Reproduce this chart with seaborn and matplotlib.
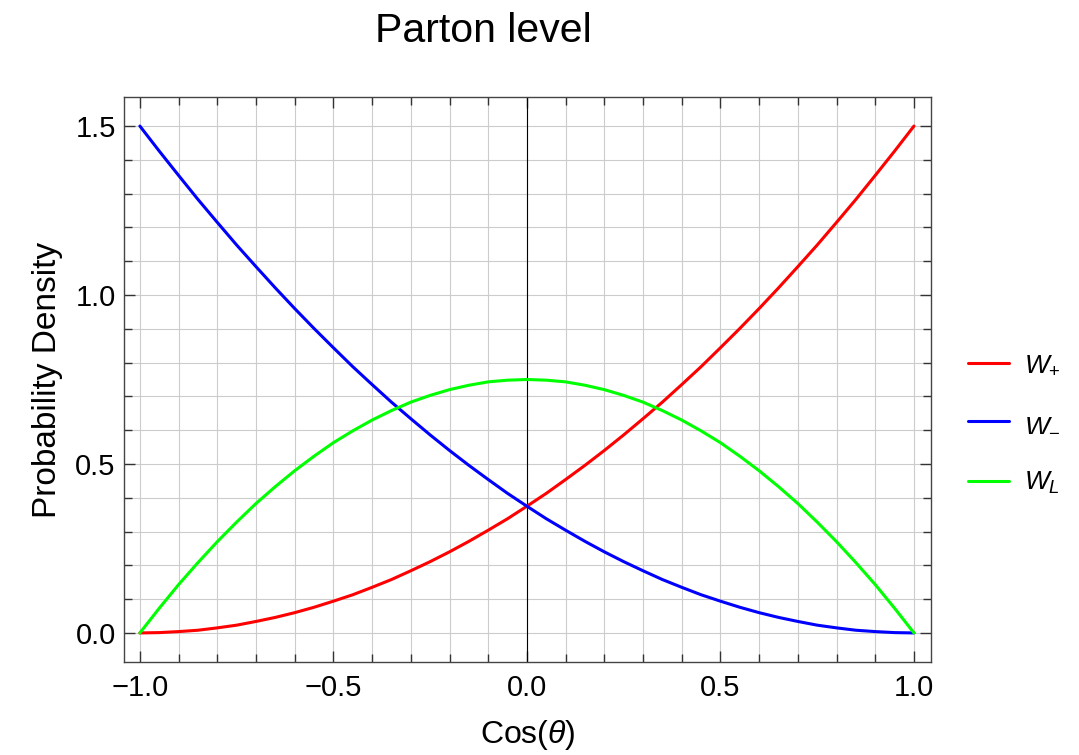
import numpy as np
import pandas as pd
import matplotlib
matplotlib.use("Agg")
import matplotlib.pyplot as plt
import seaborn as sns
from matplotlib.ticker import MultipleLocator, FuncFormatter

cos_theta = [-1.00, -0.95, -0.90, -0.85, -0.80, -0.75, -0.70, -0.65, -0.60, -0.55,
             -0.50, -0.45, -0.40, -0.35, -0.30, -0.25, -0.20, -0.15, -0.10, -0.05,
             0.00, 0.05, 0.10, 0.15, 0.20, 0.25, 0.30, 0.35, 0.40, 0.45,
             0.50, 0.55, 0.60, 0.65, 0.70, 0.75, 0.80, 0.85, 0.90, 0.95, 1.00]

w_plus = [0.000, 0.001, 0.004, 0.008, 0.015, 0.023, 0.034, 0.046, 0.060, 0.076,
          0.094, 0.113, 0.135, 0.158, 0.184, 0.211, 0.240, 0.271, 0.304, 0.338,
          0.375, 0.413, 0.454, 0.496, 0.540, 0.586, 0.634, 0.683, 0.735, 0.788,
          0.844, 0.901, 0.960, 1.021, 1.084, 1.148, 1.215, 1.283, 1.354, 1.426, 1.500]

w_minus = [1.500, 1.426, 1.354, 1.283, 1.215, 1.148, 1.084, 1.021, 0.960, 0.901,
           0.844, 0.788, 0.735, 0.683, 0.634, 0.586, 0.540, 0.496, 0.454, 0.413,
           0.375, 0.338, 0.304, 0.271, 0.240, 0.211, 0.184, 0.158, 0.135, 0.113,
           0.094, 0.076, 0.060, 0.046, 0.034, 0.023, 0.015, 0.008, 0.004, 0.001, 0.000]

w_long = [0.000, 0.073, 0.143, 0.208, 0.270, 0.328, 0.383, 0.433, 0.480, 0.523,
          0.563, 0.598, 0.630, 0.658, 0.683, 0.703, 0.720, 0.733, 0.743, 0.748,
          0.750, 0.748, 0.743, 0.733, 0.720, 0.703, 0.683, 0.658, 0.630, 0.598,
          0.563, 0.523, 0.480, 0.433, 0.383, 0.328, 0.270, 0.208, 0.143, 0.073, 0.000]

series_labels = [r"$W_{+}$", r"$W_{-}$", r"$W_{L}$"]
series_colors = ["#ff0000", "#0000ff", "#00ff00"]

df = pd.concat([
    pd.DataFrame({"x": cos_theta, "y": vals, "series": lab})
    for vals, lab in zip([w_plus, w_minus, w_long], series_labels)
])

sns.set_style("white")
plt.rcParams["font.family"] = ["Liberation Sans", "DejaVu Sans"]
plt.rcParams["mathtext.fontset"] = "custom"
plt.rcParams["mathtext.rm"] = "Liberation Sans"
plt.rcParams["mathtext.it"] = "Liberation Sans:italic"
plt.rcParams["mathtext.bf"] = "Liberation Sans:bold"
plt.rcParams["text.color"] = "black"
plt.rcParams["axes.labelcolor"] = "black"
plt.rcParams["xtick.color"] = "black"
plt.rcParams["ytick.color"] = "black"

fig = plt.figure(figsize=(10.79, 7.55), dpi=100)
ax = fig.add_axes([124/1079, 93/755, 807/1079, 565/755])

sns.lineplot(data=df, x="x", y="y", hue="series", palette=dict(zip(series_labels, series_colors)),
             sort=False, estimator=None, linewidth=2.2, ax=ax)

ax.set_xlim(-1.041, 1.044)
ax.set_ylim(-0.086, 1.586)

fmt = FuncFormatter(lambda v, p: f"{v:.1f}".replace("-", "\u2212"))
ax.xaxis.set_major_locator(MultipleLocator(0.5))
ax.xaxis.set_minor_locator(MultipleLocator(0.1))
ax.yaxis.set_major_locator(MultipleLocator(0.5))
ax.yaxis.set_minor_locator(MultipleLocator(0.1))
ax.xaxis.set_major_formatter(fmt)
ax.yaxis.set_major_formatter(fmt)

ax.grid(True, which="both", color="#cccccc", linewidth=0.8)
ax.set_axisbelow(True)
ax.axvline(0, color="black", linewidth=0.8, zorder=1.5)

ax.tick_params(which="both", direction="in", top=True, right=True, bottom=True, left=True,
               color="#333333", width=1.0)
ax.tick_params(which="major", length=8, labelsize=21)
ax.tick_params(axis="x", which="major", pad=9)
ax.tick_params(axis="y", which="major", pad=6)
ax.tick_params(which="minor", length=6)
for s in ax.spines.values():
    s.set_color("#444444")
    s.set_linewidth(1.0)

ax.set_xlabel(r"Cos($\theta$)", fontsize=23)
ax.set_ylabel("Probability Density", fontsize=24)
ax.xaxis.set_label_coords(0.5, -0.100)
ax.yaxis.set_label_coords(-0.076, 0.5)

fig.text(483/1079, 1 - 31/755, "Parton level", fontsize=29.5, ha="center", va="center")

leg = ax.legend(loc="center left", bbox_to_anchor=(1.016, 0.42), frameon=False, fontsize=19,
                handlelength=1.55, labelspacing=1.3, handletextpad=0.6)

fig.savefig("out.png", dpi=100)
